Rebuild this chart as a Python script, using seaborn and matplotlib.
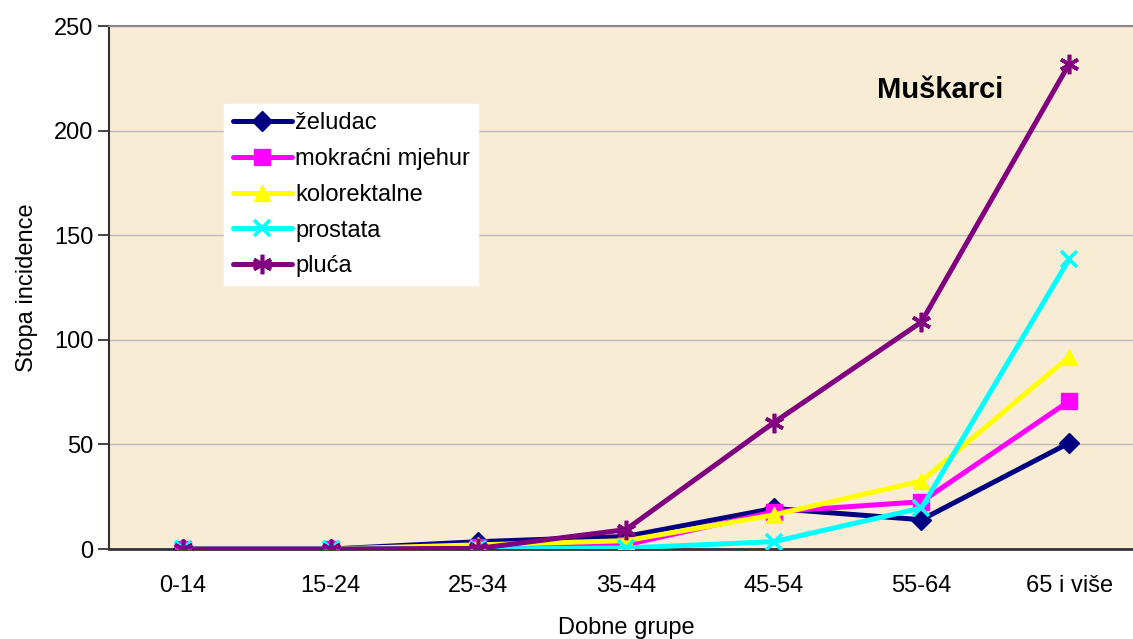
import matplotlib
matplotlib.use("Agg")
import matplotlib.pyplot as plt
import seaborn as sns
import pandas as pd
from matplotlib.lines import Line2D

# ---- data ----
age_groups = ["0-14", "15-24", "25-34", "35-44", "45-54", "55-64", "65 i više"]
zeludac = [0, 0, 3.5, 6, 19.4, 14, 50.7]
mokracni_mjehur = [0, 0, 1, 2, 17.8, 22.6, 70.7]
kolorektalne = [0, 0, 2, 4, 16.3, 32.5, 91.8]
prostata = [0, 0, 0, 0.5, 3.5, 19.6, 138.5]
pluca = [0, 0, 0.3, 9.3, 60.4, 108.5, 231.8]
series_names = ["želudac", "mokraćni mjehur", "kolorektalne", "prostata", "pluća"]
series_values = [zeludac, mokracni_mjehur, kolorektalne, prostata, pluca]
y_ticks = [0, 50, 100, 150, 200, 250]

colors = ["#000080", "#FF00FF", "#FFFF00", "#00FFFF", "#800080"]
markers = ["D", "s", "^", "x", (6, 2, 0)]
msizes = [10, 11, 12, 12, 14]

sns.set_style("white")
plt.rcParams["font.family"] = ["Liberation Sans", "DejaVu Sans"]
plt.rcParams["text.color"] = "black"
plt.rcParams["axes.labelcolor"] = "black"
plt.rcParams["xtick.color"] = "black"
plt.rcParams["ytick.color"] = "black"

fig = plt.figure(figsize=(11.33, 6.39), dpi=100)
ax = fig.add_axes([0.0962, 0.1408, 0.9126, 0.8185])
ax.set_facecolor("#F9ECD5")

rows = []
for name, vals in zip(series_names, series_values):
    for i, v in enumerate(vals):
        rows.append({"serija": name, "x": i, "y": v})
df = pd.DataFrame(rows)

lw = 3.6
handles = []
for k, name in enumerate(series_names):
    sub = df[df["serija"] == name]
    mew = 2.6 if k >= 3 else 1
    sns.lineplot(data=sub, x="x", y="y", ax=ax, color=colors[k], linewidth=lw,
                 marker=markers[k], markersize=msizes[k],
                 markeredgecolor=colors[k], markerfacecolor=colors[k],
                 markeredgewidth=mew, zorder=3 + k, legend=False)
    handles.append(Line2D([], [], color=colors[k], linewidth=lw, marker=markers[k],
                          markersize=msizes[k], markeredgecolor=colors[k],
                          markerfacecolor=colors[k], markeredgewidth=mew))

ax.set_xlim(-0.5, 6.5)
ax.set_ylim(0, 250)
ax.set_yticks(y_ticks)
ax.set_yticklabels([str(t) for t in y_ticks], fontsize=17)
ax.set_xticks(range(len(age_groups)))
ax.set_xticklabels(age_groups, fontsize=17)
ax.set_xticks([i - 0.5 for i in range(len(age_groups) + 1)], minor=True)
ax.tick_params(axis="x", which="major", length=0, pad=19)
ax.tick_params(axis="x", which="minor", length=8, width=1.2, color="#222222", direction="out")
ax.tick_params(axis="y", which="major", length=8, width=1.2, color="#222222",
               direction="out", left=True, pad=3)

ax.grid(axis="y", color="#BBBBBB", linewidth=1)
ax.set_axisbelow(True)
ax.spines["right"].set_visible(False)
ax.spines["top"].set_color("#888888")
ax.spines["top"].set_linewidth(1.5)
ax.spines["left"].set_color("#333333")
ax.spines["left"].set_linewidth(1.5)
ax.spines["bottom"].set_color("#333333")
ax.spines["bottom"].set_linewidth(2)

ax.set_xlabel("Dobne grupe", fontsize=17, labelpad=14)
ax.set_ylabel("Stopa incidence", fontsize=17, labelpad=12)

ax.text(0.743, 0.878, "Muškarci", transform=ax.transAxes, fontsize=21,
        fontweight="bold", ha="left", va="center")

leg = ax.legend(handles, series_names, loc="upper left",
                bbox_to_anchor=(0.198, 0.837), bbox_transform=fig.transFigure,
                borderaxespad=0, fontsize=17, frameon=True, fancybox=False,
                handlelength=2.5, handletextpad=0.15, labelspacing=0.58,
                borderpad=0.35)
leg.get_frame().set_facecolor("white")
leg.get_frame().set_edgecolor("white")
leg.get_frame().set_alpha(1)
leg.set_zorder(20)

fig.savefig("out.png", dpi=100, facecolor="white")
